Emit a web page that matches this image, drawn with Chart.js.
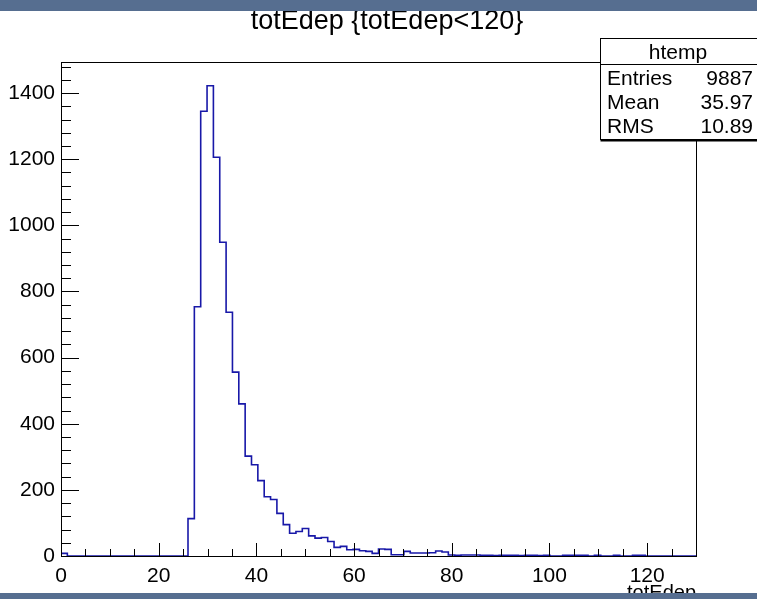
<!DOCTYPE html>
<html>
<head>
<meta charset="utf-8">
<script src="https://cdn.jsdelivr.net/npm/chart.js@4.4.1/dist/chart.umd.min.js"></script>
<style>
  html, body { margin: 0; padding: 0; background: #fff; }
  canvas { display: block; }
</style>
</head>
<body>
<canvas id="hist" width="757" height="599"></canvas>
<script>
// histogram binning (100 bins from 0 to 130)
const xRange = [0, 130];
const nBins = 100;
const yMax = 1494;

// counts per bin
const binCounts = [
  8, 0, 0, 0, 0, 0, 0, 0, 0, 0,
  0, 0, 0, 0, 0, 0, 0, 0, 0, 0,
  113, 754, 1345, 1422, 1206, 949, 737, 556, 460, 302,
  276, 228, 179, 171, 129, 95, 69, 74, 83, 61,
  54, 56, 44, 26, 29, 19, 20, 16, 14, 8,
  21, 20, 4, 4, 14, 9, 9, 9, 10, 15,
  12, 3, 2, 3, 3, 3, 2, 2, 1, 2,
  2, 2, 1, 2, 2, 1, 2, 0, 0, 2,
  2, 2, 2, 0, 2, 0, 0, 2, 0, 0,
  2, 2, 0, 0, 0, 0, 0, 0, 0, 0
];

const xTickLabels = [0, 20, 40, 60, 80, 100, 120];
const yTickLabels = [0, 200, 400, 600, 800, 1000, 1200, 1400];
const histTitle = 'totEdep {totEdep<120}';
const xAxisTitle = 'totEdep';
const statsName = 'htemp';
const statsLabels = ['Entries', 'Mean', 'RMS'];
const statsValues = ['9887', '35.97', '10.89'];

const FONT = '"Liberation Sans", Arial, Helvetica, sans-serif';
const binWidth = (xRange[1] - xRange[0]) / nBins;

// step points at the low edge of each bin, closed at the upper edge
const points = binCounts.map((v, i) => ({ x: xRange[0] + i * binWidth, y: v }));
points.push({ x: xRange[1], y: 0 });

const rootFrame = {
  id: 'rootFrame',
  beforeDraw(chart) {
    const ctx = chart.ctx;
    ctx.save();
    ctx.fillStyle = '#ffffff';
    ctx.fillRect(0, 0, chart.width, chart.height);
    ctx.restore();
  },
  afterDatasetsDraw(chart) {
    const ctx = chart.ctx;
    const a = chart.chartArea;
    const xs = chart.scales.x, ys = chart.scales.y;
    ctx.save();
    ctx.strokeStyle = '#000';
    ctx.lineWidth = 1;

    // frame
    ctx.strokeRect(Math.round(a.left) + 0.5, Math.round(a.top) + 0.5,
      Math.round(a.right - a.left), Math.round(a.bottom - a.top));

    // x ticks, pointing up
    ctx.beginPath();
    for (let v = xRange[0]; v <= xRange[1] + 1e-6; v += 5) {
      const px = Math.round(xs.getPixelForValue(v)) + 0.5;
      const len = xTickLabels.includes(v) ? 13 : 7;
      ctx.moveTo(px, a.bottom);
      ctx.lineTo(px, a.bottom - len);
    }
    // y ticks, pointing right
    for (let v = 0; v <= yMax; v += 40) {
      const py = Math.round(ys.getPixelForValue(v)) + 0.5;
      const len = yTickLabels.includes(v) ? 18 : 10;
      ctx.moveTo(a.left, py);
      ctx.lineTo(a.left + len, py);
    }
    ctx.stroke();

    // title
    ctx.fillStyle = '#000';
    ctx.font = '27px ' + FONT;
    ctx.textAlign = 'center';
    ctx.textBaseline = 'alphabetic';
    ctx.fillText(histTitle, 387, 29);

    // x axis title
    ctx.font = '20px ' + FONT;
    ctx.textAlign = 'right';
    ctx.fillText(xAxisTitle, a.right, 599);

    // stats box
    const bx = 600.5, by = 38.5, bw = 170, bh = 101;
    ctx.fillStyle = '#fff';
    ctx.fillRect(bx, by, bw, bh);
    ctx.strokeRect(bx, by, bw, bh);
    ctx.fillStyle = '#000';
    ctx.fillRect(bx, by + bh, bw, 2);
    ctx.beginPath();
    ctx.moveTo(bx, 64.5);
    ctx.lineTo(bx + bw, 64.5);
    ctx.stroke();
    ctx.font = '21px ' + FONT;
    ctx.textAlign = 'center';
    ctx.fillText(statsName, 678, 59);
    statsLabels.forEach((lab, i) => {
      const base = 85 + i * 24;
      ctx.textAlign = 'left';
      ctx.fillText(lab, 607, base);
      ctx.textAlign = 'right';
      ctx.fillText(statsValues[i], 753, base);
    });

    // window border strips
    ctx.fillStyle = '#566e90';
    ctx.fillRect(0, 0, chart.width, 11);
    ctx.fillRect(0, 593, chart.width, chart.height - 593);
    ctx.restore();
  }
};

new Chart(document.getElementById('hist'), {
  type: 'line',
  data: {
    datasets: [{
      data: points,
      stepped: 'before',
      borderColor: '#1818a8',
      borderWidth: 1.6,
      pointRadius: 0,
      fill: false,
      tension: 0
    }]
  },
  options: {
    responsive: false,
    animation: false,
    events: [],
    layout: { padding: { left: 0, top: 62, right: 61, bottom: 0 } },
    plugins: { legend: { display: false }, tooltip: { enabled: false }, title: { display: false } },
    scales: {
      x: {
        type: 'linear',
        min: xRange[0],
        max: xRange[1],
        grid: { display: false, drawTicks: false },
        border: { display: false },
        ticks: { includeBounds: false, color: '#000', font: { family: FONT, size: 21 }, padding: 8, maxRotation: 0,
          callback: v => String(v) },
        afterBuildTicks: s => { s.ticks = xTickLabels.map(v => ({ value: v })); },
        afterFit: s => { s.height = 43; }
      },
      y: {
        type: 'linear',
        min: 0,
        max: yMax,
        grid: { display: false, drawTicks: false },
        border: { display: false },
        ticks: { includeBounds: false, color: '#000', font: { family: FONT, size: 21 }, padding: 6,
          callback: v => String(v) },
        afterBuildTicks: s => { s.ticks = yTickLabels.map(v => ({ value: v })); },
        afterFit: s => { s.width = 61; }
      }
    }
  },
  plugins: [rootFrame]
});
</script>
</body>
</html>
